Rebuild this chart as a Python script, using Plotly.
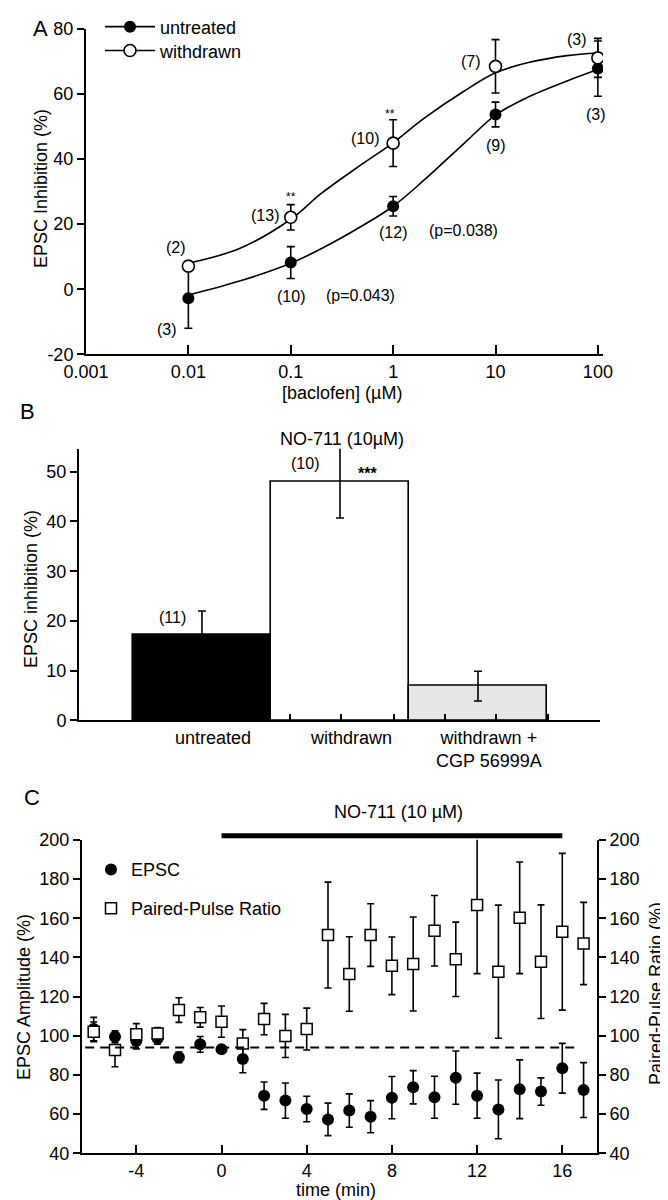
import math
import plotly.graph_objects as go

FONT = "Liberation Sans, Arial, Helvetica, sans-serif"
W, H = 668, 1200

# ---------------- Panel A data ----------------
conc = [0.01, 0.1, 1, 10, 100]
untreated_mean = [-2.8, 8.2, 25.5, 53.7, 67.8]
untreated_sem = [9.2, 4.9, 3.0, 3.8, 8.5]
withdrawn_mean = [7.1, 22.1, 44.9, 68.5, 71.1]
withdrawn_sem = [0.0, 3.9, 7.2, 8.2, 6.0]
curve_conc = [0.01, 0.0316, 0.1, 0.2, 0.5, 1, 2, 5, 10, 20, 50, 100]
untreated_fit = [-1.8, 2.5, 8.0, 12.5, 19.5, 25.5, 33.5, 45.0, 53.5, 58.8, 64.0, 67.5]
withdrawn_fit = [8.0, 12.5, 21.5, 29.5, 38.5, 45.0, 52.5, 61.0, 66.5, 69.5, 71.8, 72.6]
a_tickvals = [0.001, 0.01, 0.1, 1, 10, 100]
a_ticktext = ["0.001", "0.01", "0.1", "1", "10", "100"]
a_yticks = [-20, 0, 20, 40, 60, 80]
a_yticktext = ["-20", "0", "20", "40", "60", "80"]
a_labels = [  # text, conc, value, size
    ("(2)", 0.00755, 12.8, 16), ("(3)", 0.00617, -12.3, 16),
    ("(13)", 0.0557, 22.8, 16), ("**", 0.1, 28.3, 12), ("(10)", 0.1, -2.2, 16),
    ("(p=0.043)", 0.482, -2.0, 16), ("(10)", 0.527, 46.4, 16), ("**", 0.93, 53.7, 12),
    ("(12)", 1.0, 17.3, 16), ("(p=0.038)", 4.88, 17.9, 16), ("(7)", 5.7, 69.9, 16),
    ("(9)", 10.0, 44.2, 16), ("(3)", 63.0, 76.7, 16), ("(3)", 96.7, 53.7, 16),
]

# ---------------- Panel B data ----------------
b_groups = ["untreated", "withdrawn", "withdrawn +<br>CGP 56999A"]
b_vals = [17.2, 47.9, 6.9]
b_err = [4.8, 7.2, 3.0]
b_n = ["(11)", "(10)", ""]
b_colors = ["black", "white", "#e6e6e6"]
b_tickmarks = [0.64, 1.01, 1.39, 1.76, 2.13, 2.51, 2.88]

# ---------------- Panel C data ----------------
t_min = list(range(-6, 18))
epsc = [103.4, 99.5, 97.3, 98.7, 89.0, 95.6, 93.1, 88.1, 69.4, 66.9, 62.6, 57.3,
        61.8, 58.7, 68.4, 73.7, 68.6, 78.6, 69.4, 62.4, 72.7, 71.5, 83.4, 72.3]
epsc_err = [6.0, 3.0, 4.0, 3.0, 2.7, 4.0, 2.0, 7.0, 7.0, 9.0, 6.5, 8.3,
            8.5, 8.2, 10.8, 8.5, 10.7, 13.6, 11.5, 15.0, 15.0, 7.0, 12.7, 14.0]
ppr = [102.0, 92.7, 100.7, 101.2, 113.1, 109.4, 107.2, 96.1, 108.5, 99.9, 103.4, 151.4,
       131.5, 151.4, 135.7, 136.6, 153.6, 139.0, 166.7, 132.7, 160.2, 137.8, 153.1, 147.1]
ppr_err = [5.0, 8.5, 5.5, 3.0, 6.3, 5.0, 8.0, 7.0, 8.0, 11.0, 10.7, 27.0,
           19.0, 16.0, 14.7, 24.0, 18.0, 19.0, 35.0, 34.0, 28.5, 29.0, 40.0, 21.0]
baseline_x = [-6.4, 16.8]
baseline_level = 94
drug_period = [0, 16]
c_xticks = [-4, 0, 4, 8, 12, 16]
c_xticktext = ["-4", "0", "4", "8", "12", "16"]
c_yticks = list(range(40, 201, 20))


def px(x):
    return x / W


def py(y):
    return 1 - y / H


fig = go.Figure()

# ---- Panel A traces ----
for fit in (untreated_fit, withdrawn_fit):
    fig.add_trace(go.Scatter(x=curve_conc, y=fit, mode="lines",
                             line=dict(color="black", width=1.6, shape="spline"),
                             showlegend=False, xaxis="x", yaxis="y", hoverinfo="skip"))
fig.add_trace(go.Scatter(x=conc, y=untreated_mean, mode="markers", showlegend=False,
                         marker=dict(symbol="circle", size=12, color="black"),
                         error_y=dict(type="data", array=untreated_sem, color="black", thickness=1.6, width=4),
                         xaxis="x", yaxis="y"))
fig.add_trace(go.Scatter(x=conc, y=withdrawn_mean, mode="markers", showlegend=False,
                         marker=dict(symbol="circle", size=12, color="white", line=dict(color="black", width=1.6)),
                         error_y=dict(type="data", array=withdrawn_sem, color="black", thickness=1.6, width=4),
                         xaxis="x", yaxis="y"))
fig.add_trace(go.Scatter(x=[None], y=[None], mode="lines+markers", name="untreated", legend="legend",
                         line=dict(color="black", width=1.6), marker=dict(size=12, color="black"),
                         xaxis="x", yaxis="y"))
fig.add_trace(go.Scatter(x=[None], y=[None], mode="lines+markers", name="withdrawn", legend="legend2",
                         line=dict(color="black", width=1.6),
                         marker=dict(size=12, color="white", line=dict(color="black", width=1.6)),
                         xaxis="x", yaxis="y"))

# ---- Panel B traces ----
fig.add_trace(go.Bar(x=[0, 1, 2], y=b_vals, width=1, showlegend=False,
                     marker=dict(color=b_colors, line=dict(color="black", width=1.6)),
                     error_y=dict(type="data", array=b_err, color="black", thickness=1.6, width=4),
                     xaxis="x2", yaxis="y2"))

# ---- Panel C traces ----
fig.add_trace(go.Scatter(x=t_min, y=epsc, mode="markers", name="EPSC", legend="legend3",
                         marker=dict(symbol="circle", size=12, color="black"),
                         error_y=dict(type="data", array=epsc_err, color="black", thickness=1.6, width=3.5),
                         xaxis="x3", yaxis="y3"))
fig.add_trace(go.Scatter(x=t_min, y=ppr, mode="markers", name="Paired-Pulse Ratio", legend="legend4",
                         marker=dict(symbol="square", size=11, color="white", line=dict(color="black", width=1.5)),
                         error_y=dict(type="data", array=ppr_err, color="black", thickness=1.6, width=3.5),
                         cliponaxis=False, xaxis="x3", yaxis="y4"))
fig.add_trace(go.Scatter(x=baseline_x, y=[baseline_level, baseline_level], mode="lines", showlegend=False,
                         line=dict(color="black", width=1.8, dash="9px,6px"), hoverinfo="skip",
                         xaxis="x3", yaxis="y4"))

axis_common = dict(showline=True, linecolor="black", linewidth=2, showgrid=False, zeroline=False,
                   tickcolor="black", tickwidth=1.6,
                   tickfont=dict(family=FONT, size=18, color="black"))

legend_common = dict(xanchor="left", yanchor="middle", bgcolor="rgba(0,0,0,0)",
                     font=dict(family=FONT, size=18, color="black"))

fig.update_layout(
    width=W, height=H, margin=dict(l=0, r=0, t=0, b=0), autosize=False,
    template="none", paper_bgcolor="white", plot_bgcolor="white",
    font=dict(family=FONT, size=18, color="black"),
    # Panel A
    xaxis=dict(axis_common, type="log", range=[-3, 2.05], domain=[px(78), px(595)], anchor="y",
               tickvals=a_tickvals, ticktext=a_ticktext, ticks="inside", ticklen=9),
    yaxis=dict(axis_common, range=[-20, 80], domain=[py(342), py(15)], anchor="x",
               tickvals=a_yticks, ticktext=a_yticktext, ticks="outside", ticklen=7),
    # Panel B
    xaxis2=dict(axis_common, range=[-0.891, 2.884], domain=[px(71), px(592)], anchor="y2",
                tickvals=b_tickmarks, showticklabels=False, ticks="inside", ticklen=6),
    yaxis2=dict(axis_common, range=[0, 54.6], domain=[py(710), py(437)], anchor="x2",
                tickvals=[0, 10, 20, 30, 40, 50], ticks="outside", ticklen=7),
    # Panel C
    xaxis3=dict(axis_common, range=[-6.55, 17.63], domain=[px(74), px(589)], anchor="y3",
                tickvals=c_xticks, ticktext=c_xticktext, ticks="inside", ticklen=8),
    yaxis3=dict(axis_common, range=[40, 200], domain=[py(1145), py(830)], anchor="x3",
                tickvals=c_yticks, ticks="outside", ticklen=7),
    yaxis4=dict(axis_common, range=[40, 200], overlaying="y3", side="right", anchor="x3",
                tickvals=c_yticks, ticks="outside", ticklen=7),
    bargap=0,
    legend=dict(legend_common, x=px(92), y=py(13), itemwidth=50),
    legend2=dict(legend_common, x=px(92), y=py(37), itemwidth=50),
    legend3=dict(legend_common, x=px(83), y=py(860)),
    legend4=dict(legend_common, x=px(83), y=py(899)),
)

ann = []
# Panel A labels
for text, cx, val, size in a_labels:
    ann.append(dict(text=text, x=math.log10(cx), y=val, xref="x", yref="y",
                    xanchor="center", yanchor="middle", showarrow=False, font=dict(size=size)))
# Panel B labels
b_label_pos = [(-0.217, 20.6), (0.746, 51.6)]
for (txt, (bx, by)) in zip(b_n[:2], b_label_pos):
    ann.append(dict(text=txt, x=bx, y=by, xref="x2", yref="y2", xanchor="center", yanchor="middle",
                    showarrow=False, font=dict(size=16)))
ann.append(dict(text="<b>***</b>", x=1.196, y=49.6, xref="x2", yref="y2", xanchor="center", yanchor="middle",
                showarrow=False, font=dict(size=16)))
for i, g in enumerate(b_groups):
    ann.append(dict(text=g, x=i + 0.08, y=py(716), xref="x2", yref="paper", xanchor="center", yanchor="top",
                    showarrow=False, font=dict(size=18)))


def ptxt(text, x, y, size=18, angle=0):
    ann.append(dict(text=text, x=px(x), y=py(y), xref="paper", yref="paper", showarrow=False,
                    xanchor="center", yanchor="middle", font=dict(size=size), textangle=angle))


ptxt("A", 32, 15, 22)
ptxt("EPSC Inhibition (%)", 33, 176, 18, -90)
ptxt("[baclofen] (µM)", 334, 381, 18)
ptxt("B", 19, 400, 22)
ptxt("NO-711 (10µM)", 334, 427, 18)
ptxt("EPSC inhibition (%)", 23, 578, 18, -90)
ptxt("C", 24, 787, 22)
ptxt("NO-711 (10 µM)", 390, 802, 18)
ptxt("EPSC Amplitude (%)", 16, 988, 18, -90)
ptxt("Paired-Pulse Ratio (%)", 648, 985, 18, -90)
ptxt("time (min)", 328, 1182, 18)

fig.update_layout(annotations=ann)

# NO-711 application bar (0-16 min)
fig.add_shape(type="line", xref="x3", yref="paper", x0=drug_period[0], x1=drug_period[1],
              y0=py(826), y1=py(826), line=dict(color="black", width=5))

fig.write_html("out.html")
